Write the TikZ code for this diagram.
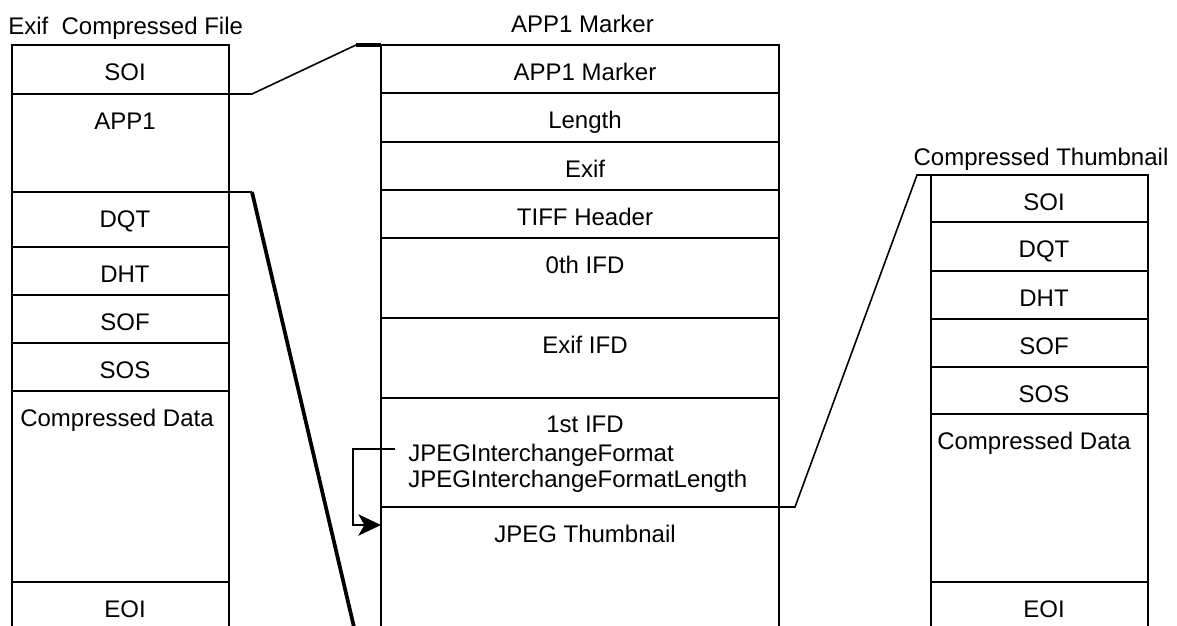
\documentclass[tikz,border=0pt]{standalone}
\usepackage{fontspec}
\setmainfont{Liberation Sans}
\usetikzlibrary{fit,arrows.meta}
\begin{document}
\begin{tikzpicture}[x=0.75pt,y=-0.75pt,
  cell/.style={draw, line width=1.2pt, inner sep=0pt, outer sep=0pt, rectangle},
  lbl/.style={anchor=base, inner sep=0pt, font=\fontsize{18}{21}\selectfont},
  conn/.style={line width=1.2pt},
  thickconn/.style={line width=2.8pt},
  barconn/.style={line width=2.4pt},
  ptr/.style={line width=1.1pt, -{Stealth[length=17pt,width=16pt,inset=4.5pt]}}
]
\useasboundingbox (0,0) rectangle (1177,625);
\clip (0,0) rectangle (1177,625);

% ---------- left column: Exif compressed file ----------
\node[cell, fit={(12,45)(229,94)}]   (lsoi) {};
\node[cell, fit={(12,94)(229,192)}]  (lapp) {};
\node[cell, fit={(12,192)(229,247)}] (ldqt) {};
\node[cell, fit={(12,247)(229,295)}] (ldht) {};
\node[cell, fit={(12,295)(229,343)}] (lsof) {};
\node[cell, fit={(12,343)(229,391)}] (lsos) {};
\node[cell, fit={(12,391)(229,582)}] (lcd)  {};
\node[cell, fit={(12,582)(229,660)}] (leoi) {};

\node[lbl, anchor=base west] (tleft) at (8,34) {Exif\ \ Compressed File};
\node[lbl] (tlsoi) at (125,80)  {SOI};
\node[lbl] (tlapp) at (125,129) {APP1};
\node[lbl] (tldqt) at (125,227) {DQT};
\node[lbl] (tldht) at (125,282) {DHT};
\node[lbl] (tlsof) at (125,330) {SOF};
\node[lbl] (tlsos) at (125,378) {SOS};
\node[lbl] (tlcd)  at (117,426) {Compressed Data};
\node[lbl] (tleoi) at (125,617) {EOI};

% ---------- middle column: APP1 ----------
\node[cell, fit={(381,45)(779,93)}]   (mapp)   {};
\node[cell, fit={(381,93)(779,142)}]  (mlen)   {};
\node[cell, fit={(381,142)(779,190)}] (mexif)  {};
\node[cell, fit={(381,190)(779,238)}] (mtiff)  {};
\node[cell, fit={(381,238)(779,318)}] (mzero)  {};
\node[cell, fit={(381,318)(779,398)}] (mexifd) {};
\node[cell, fit={(381,398)(779,507)}] (mfirst) {};
\node[cell, fit={(381,507)(779,660)}] (mthumb) {};

\node[lbl] (tmid)    at (582.5,32)  {APP1 Marker};
\node[lbl] (tmapp)   at (585,80)    {APP1 Marker};
\node[lbl] (tmlen)   at (585,128)   {Length};
\node[lbl] (tmexif)  at (585,177)   {Exif};
\node[lbl] (tmtiff)  at (585,225)   {TIFF Header};
\node[lbl] (tmzero)  at (585,273)   {0th IFD};
\node[lbl] (tmexifd) at (585,353)   {Exif IFD};
\node[lbl] (tmfirst) at (585,432)   {1st IFD};
\node[lbl, anchor=base west] (jif)  at (408,461) {JPEGInterchangeFormat};
\node[lbl, anchor=base west] (jifl) at (408,487) {JPEGInterchangeFormatLength};
\node[lbl] (tmthumb) at (585,542)   {JPEG Thumbnail};

% ---------- right column: compressed thumbnail ----------
\node[cell, fit={(931,175)(1148,222)}] (rsoi) {};
\node[cell, fit={(931,222)(1148,271)}] (rdqt) {};
\node[cell, fit={(931,271)(1148,319)}] (rdht) {};
\node[cell, fit={(931,319)(1148,367)}] (rsof) {};
\node[cell, fit={(931,367)(1148,414)}] (rsos) {};
\node[cell, fit={(931,414)(1148,582)}] (rcd)  {};
\node[cell, fit={(931,582)(1148,660)}] (reoi) {};

\node[lbl] (tright) at (1041,165) {Compressed Thumbnail};
\node[lbl] (trsoi)  at (1044,210) {SOI};
\node[lbl] (trdqt)  at (1044,257) {DQT};
\node[lbl] (trdht)  at (1044,306) {DHT};
\node[lbl] (trsof)  at (1044,354) {SOF};
\node[lbl] (trsos)  at (1044,402) {SOS};
\node[lbl] (trcd)   at (1034,449) {Compressed Data};
\node[lbl] (treoi)  at (1044,617) {EOI};

% ---------- connectors ----------
\coordinate (a1) at (252,94);
\coordinate (a2) at (356,45);
\draw[conn] (lsoi.south east) -- (a1) -- (a2);
\draw[barconn] (a2) -- (mapp.north west);

\coordinate (b1) at (252,192);
\coordinate (b2) at (357,640);
\draw[conn] (lapp.south east) -- (b1);
\draw[thickconn] (b1) -- (b2);

\coordinate (c1) at (795,507);
\coordinate (c2) at (917,175);
\draw[conn] (mfirst.south east) -- (c1) -- (c2) -- (rsoi.north west);

\coordinate (d0) at (395,449);
\coordinate (d1) at (353,449);
\coordinate (d2) at (353,525);
\coordinate (d3) at (381,525);
\draw[ptr] (d0) -- (d1) -- (d2) -- (d3);
\end{tikzpicture}
\end{document}
